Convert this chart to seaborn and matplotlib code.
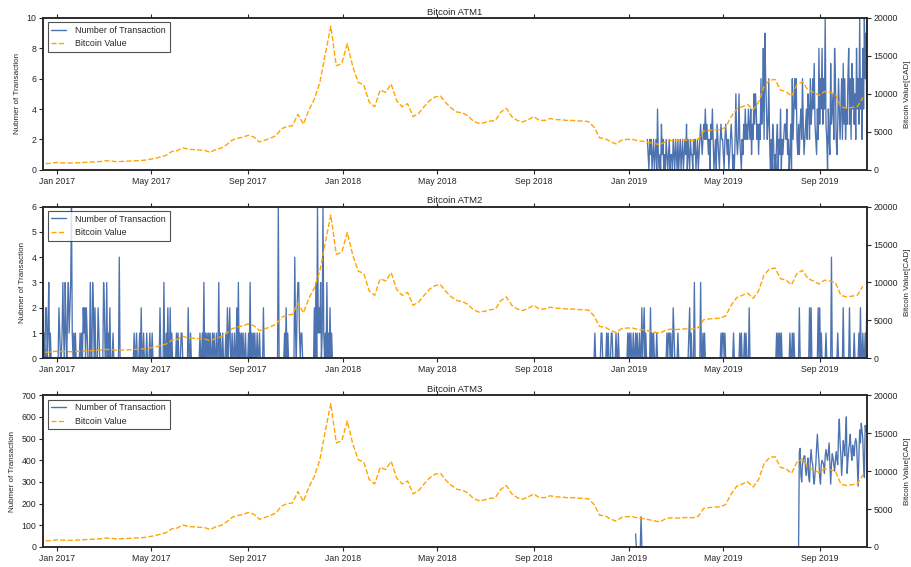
import matplotlib
matplotlib.use("Agg")
import matplotlib.pyplot as plt
import matplotlib.dates as mdates
from matplotlib.lines import Line2D
import pandas as pd
import seaborn as sns

# ---------------- data ----------------
# Bitcoin value in CAD, weekly samples starting 2016-12-17
btc_start = "2016-12-17"
btc_values = [
    800, 850, 950, 900, 880, 880, 920, 960, 1000, 1030,
    1080, 1180, 1150, 1050, 1100, 1130, 1180, 1200, 1250, 1380,
    1500, 1700, 1900, 2400, 2500, 2900, 2700, 2650, 2600, 2550,
    2300, 2650, 2850, 3300, 3900, 4150, 4300, 4550, 4300, 3650,
    3900, 4150, 4500, 5400, 5700, 5800, 7300, 6000, 7900, 9300,
    11500, 15300, 18900, 13700, 14000, 16600, 13600, 11500, 11200, 8900,
    8300, 10500, 10200, 11300, 9100, 8300, 8700, 7000, 7400, 8300,
    9100, 9600, 9700, 8800, 8100, 7600, 7500, 7100, 6400, 6100,
    6200, 6400, 6500, 7600, 8100, 7000, 6500, 6300, 6600, 7000,
    6500, 6500, 6750, 6600, 6600, 6500, 6500, 6450, 6400, 6350,
    5600, 4200, 4100, 3700, 3400, 3900, 4000, 4000, 3800, 3750,
    3600, 3450, 3300, 3700, 3850, 3800, 3850, 3900, 3850, 4050,
    5100, 5200, 5250, 5300, 5600, 7000, 8000, 8300, 8600, 7900,
    8900, 11000, 11800, 11900, 10500, 10300, 9700, 11200, 11600, 10500,
    10200, 9800, 10300, 10200, 10000, 8300, 8100, 8200, 8300, 9500,
]

# ATM1 daily transactions from 2019-01-24
atm1_start = "2019-01-24"
atm1_counts = [
    2, 1, 0, 2, 1, 2, 0, 1,
    2, 0, 1, 2, 0, 4, 1, 0, 1, 0, 3, 1, 2, 0, 1, 0, 2, 1, 0, 1, 2, 0, 1, 1, 0, 2, 1, 0,
    2, 1, 0, 2, 0, 1, 2, 0, 1, 2, 0, 1, 2, 1, 3, 0, 2, 1, 0, 2, 1, 1, 0, 2, 1, 2, 0, 1, 2, 0, 1,
    2, 3, 2, 1, 2, 3, 2, 4, 2, 3, 2, 1, 2, 0, 3, 2, 4, 2, 0, 1, 2, 0, 3, 2, 1, 0, 2, 3, 2, 2,
    1, 0, 2, 3, 2, 1, 2, 0, 1, 2, 3, 2, 0, 1, 0, 2, 5, 2, 1, 2, 5, 2, 1, 0, 2, 1, 3, 2, 4, 2, 3,
    2, 4, 3, 2, 4, 1, 3, 2, 5, 3, 5, 4, 2, 3, 1, 3, 2, 6, 3, 4, 8, 2, 9, 6, 4, 2, 3, 6, 2, 0,
    2, 0, 3, 2, 0, 1, 0, 2, 3, 0, 2, 1, 4, 0, 2, 1, 2, 3, 3, 2, 4, 1, 2, 0, 1, 3, 0, 6, 2, 4, 6,
    4, 6, 2, 1, 3, 1, 3, 4, 2, 6, 3, 1, 2, 3, 4, 2, 5, 4, 2, 6, 3, 4, 6, 4, 7, 3, 2, 1, 4, 2, 8,
    3, 6, 4, 8, 3, 6, 4, 10, 3, 2, 0, 4, 2, 1, 7, 3, 4, 5, 2, 8, 6, 2, 1, 3, 6, 4, 2, 4, 6, 2,
    7, 3, 6, 2, 4, 3, 6, 8, 3, 6, 2, 7, 4, 6, 3, 5, 2, 8, 4, 6, 3, 10, 4, 6, 2, 8, 4, 10, 6, 9, 4,
]

# ATM2 daily transactions, first period from 2016-12-14
atm2_a_start = "2016-12-14"
atm2_a_counts = [
    0, 1, 0, 2, 2, 0, 1, 3, 0, 1,
    0, 0, 0, 0, 0, 0, 0, 0, 0, 0,
    2, 1, 0, 0, 1, 3, 1, 0, 3, 1,
    0, 2, 3, 1, 2, 3, 6, 1, 0, 1,
    0, 1, 0, 0, 0, 0, 0, 1, 0, 1,
    0, 2, 1, 2, 0, 2, 1, 0, 0, 0,
    3, 0, 0, 3, 2, 0, 2, 0, 0, 0,
    2, 1, 0, 0, 0, 0, 0, 3, 2, 0,
    0, 3, 0, 1, 0, 2, 0, 0, 0, 1,
    0, 0, 0, 0, 0, 0, 0, 4, 0, 0,
    0, 0, 0, 0, 0, 0, 0, 0, 0, 0,
    0, 0, 0, 0, 0, 0, 1, 0, 0, 1,
    0, 0, 0, 1, 0, 2, 0, 0, 1, 0,
    0, 0, 1, 0, 0, 0, 1, 0, 0, 1,
    0, 0, 0, 0, 0, 0, 0, 0, 0, 2,
    0, 0, 0, 0, 3, 0, 0, 1, 0, 2,
    0, 0, 2, 0, 1, 0, 0, 0, 0, 0,
    1, 0, 1, 0, 0, 0, 1, 1, 0, 0,
    0, 0, 0, 0, 0, 2, 0, 0, 1, 0,
    0, 0, 0, 0, 0, 0, 0, 0, 0, 0,
    1, 0, 0, 1, 0, 3, 0, 1, 0, 1,
    0, 1, 0, 1, 0, 0, 1, 0, 1, 0,
    0, 1, 0, 0, 3, 0, 1, 0, 0, 1,
    0, 0, 0, 1, 0, 2, 0, 1, 2, 0,
    0, 1, 0, 0, 1, 0, 0, 2, 0, 3,
    0, 1, 0, 1, 0, 1, 0, 0, 1, 0,
    0, 0, 1, 0, 3, 0, 1, 0, 1, 0,
    1, 0, 0, 1, 0, 0, 1, 0, 0, 0,
    0, 2, 0, 0, 0, 0, 0, 0, 0, 0,
    0, 0, 0, 0, 0, 0, 0, 0, 0, 0,
    6, 0, 0, 0, 0, 0, 0, 0, 1, 0,
    2, 0, 1, 0, 0, 0, 0, 0, 0, 0,
    0, 4, 1, 0, 2, 3, 3, 1, 0, 1,
    1, 0, 0, 0, 0, 0, 0, 0, 0, 0,
    0, 0, 0, 0, 0, 0, 2, 0, 3, 0,
    6, 1, 2, 1, 3, 0, 1, 6, 1, 0,
    1, 0, 3, 0, 1, 0, 2, 0, 1, 0, 0,
]

# ATM2 daily transactions, second period from 2018-11-17
atm2_b_start = "2018-11-17"
atm2_b_counts = [
    0, 1, 0, 0, 0, 0, 0, 0, 0, 1,
    1, 0, 0, 0, 0, 0, 1, 0, 1, 0,
    0, 0, 1, 1, 0, 0, 0, 0, 1, 0,
    0, 1, 0, 0, 0, 0, 0, 0, 0, 0,
    0, 0, 0, 1, 0, 1, 0, 1, 0, 0,
    1, 0, 0, 1, 0, 1, 0, 0, 1, 0,
    0, 2, 0, 1, 2, 0, 1, 0, 0, 0,
    0, 0, 2, 0, 1, 0, 1, 0, 0, 0,
    1, 0, 0, 0, 0, 0, 0, 0, 0, 0,
    0, 0, 0, 1, 0, 1, 1, 0, 1, 0,
    0, 2, 1, 0, 0, 0, 0, 1, 0, 0,
    0, 0, 0, 0, 0, 0, 0, 0, 0, 0,
    0, 1, 2, 0, 1, 0, 0, 0, 3, 0,
    0, 0, 0, 0, 0, 0, 3, 0, 0, 1,
    0, 1, 0, 0, 0, 0, 0, 0, 0, 0,
    0, 0, 0, 0, 0, 0, 0, 0, 0, 0,
    0, 0, 1, 0, 1, 1, 0, 1, 0, 0,
    0, 0, 0, 0, 0, 0, 0, 0, 1, 0,
    0, 0, 0, 0, 0, 0, 1, 0, 1, 0,
    0, 0, 1, 0, 1, 0, 0, 0, 2, 0,
    0, 0, 0, 0, 0, 0, 0, 0, 0, 0,
    0, 0, 0, 0, 0, 0, 0, 0, 0, 0,
    0, 0, 0, 0, 0, 0, 0, 0, 0, 0,
    0, 0, 0, 1, 0, 1, 0, 1, 0, 1,
    0, 0, 0, 0, 0, 0, 0, 0, 0, 0,
    1, 0, 0, 1, 0, 1, 0, 0, 0, 0,
    0, 0, 2, 0, 0, 0, 0, 0, 0, 0,
    0, 0, 0, 0, 0, 2, 0, 2, 0, 0,
    0, 0, 0, 0, 0, 0, 2, 0, 2, 0,
    1, 0, 0, 0, 0, 0, 1, 0, 0, 0,
    0, 0, 0, 4, 0, 0, 0, 0, 0, 0,
    0, 1, 0, 0, 0, 0, 0, 0, 2, 0,
    0, 0, 0, 0, 0, 0, 2, 0, 0, 0,
    0, 0, 1, 0, 0, 0, 0, 0, 1, 0,
    2, 0, 0, 1, 0, 0, 1, 0, 2,
]

# ATM3 daily transactions from 2019-01-09
atm3_start = "2019-01-09"
atm3_january = [60, 0, 0, 0, 0, 0, 0, 140, 0]
atm3_idle_days = 200          # days with zero transactions (Jan 18 - Aug 5)
atm3_autumn = [
    440, 455, 330, 300, 380, 400, 420, 420, 350, 330,
    380, 410, 320, 300, 400, 450, 400, 380, 320, 290,
    340, 380, 460, 520, 450, 400, 320, 290, 380, 400,
    390, 380, 340, 420, 450, 420, 400, 440, 480, 380,
    290, 380, 430, 410, 380, 350, 400, 440, 400, 380,
    520, 590, 480, 420, 330, 400, 490, 460, 420, 520,
    600, 340, 400, 450, 480, 520, 440, 400, 470, 450,
    420, 480, 500, 480, 380, 280, 420, 540, 480, 570,
    540, 500, 380, 320, 560, 540, 530,
]

titles = ["Bitcoin ATM1", "Bitcoin ATM2", "Bitcoin ATM3"]
left_max = [10, 6, 700]
x_min, x_max = "2016-12-14", "2019-10-31"


def daily(start, values):
    return pd.DataFrame({"date": pd.date_range(start, periods=len(values), freq="D"),
                         "count": values})


btc_df = pd.DataFrame({"date": pd.date_range(btc_start, periods=len(btc_values), freq="7D"),
                       "value": btc_values})
panels = [
    [daily(atm1_start, atm1_counts)],
    [daily(atm2_a_start, atm2_a_counts), daily(atm2_b_start, atm2_b_counts)],
    [daily(atm3_start, atm3_january + [0] * atm3_idle_days + atm3_autumn)],
]

# ---------------- style ----------------
sns.set_style("ticks")
plt.rcParams["font.family"] = ["Liberation Sans", "DejaVu Sans"]
BLUE = "#4C72B0"
ORANGE = "orange"
DARK = ".15"

fig, axes = plt.subplots(3, 1, figsize=(9.11, 5.67), dpi=100)
fig.subplots_adjust(left=0.0475, right=0.9514, top=0.9683, bottom=0.0353, hspace=0.243)

for ax, title, segs, ymax in zip(axes, titles, panels, left_max):
    for seg in segs:
        sns.lineplot(data=seg, x="date", y="count", ax=ax, color=BLUE, lw=0.95, legend=False)
    ax2 = ax.twinx()
    sns.lineplot(data=btc_df, x="date", y="value", ax=ax2, color=ORANGE, lw=1.0,
                 linestyle="--", legend=False)

    ax.set_xlim(pd.Timestamp(x_min), pd.Timestamp(x_max))
    ax.set_ylim(0, ymax)
    ax2.set_ylim(0, 20000)
    ax2.set_yticks([0, 5000, 10000, 15000, 20000])

    ax.xaxis.set_major_locator(mdates.MonthLocator(bymonth=[1, 5, 9]))
    ax.xaxis.set_major_formatter(mdates.DateFormatter("%b %Y"))

    ax.tick_params(axis="both", labelsize=6.3, length=3, width=0.8, pad=2, colors=DARK)
    ax.tick_params(axis="x", top=True)
    ax2.tick_params(axis="y", labelsize=6.3, length=3, width=0.8, pad=2, colors=DARK)

    ax.set_xlabel("")
    ax.set_ylabel("Nubmer of Transaction", fontsize=5.8, color=DARK)
    ax2.set_ylabel("Bitcoin Value[CAD]", fontsize=5.8, color=DARK)
    ax.set_title(title, fontsize=6.8, pad=2.5, color=DARK)

    for a in (ax, ax2):
        for sp in a.spines.values():
            sp.set_linewidth(1.1)
            sp.set_color(DARK)

    handles = [Line2D([], [], color=BLUE, lw=1.0),
               Line2D([], [], color=ORANGE, lw=1.0, linestyle="--")]
    leg = ax2.legend(handles, ["Number of Transaction", "Bitcoin Value"], loc="upper left",
                     fontsize=6.4, fancybox=False, edgecolor=DARK, handlelength=1.7,
                     handletextpad=1.0, framealpha=0.8)
    leg.get_frame().set_linewidth(0.8)

fig.savefig("out.png", dpi=100)
